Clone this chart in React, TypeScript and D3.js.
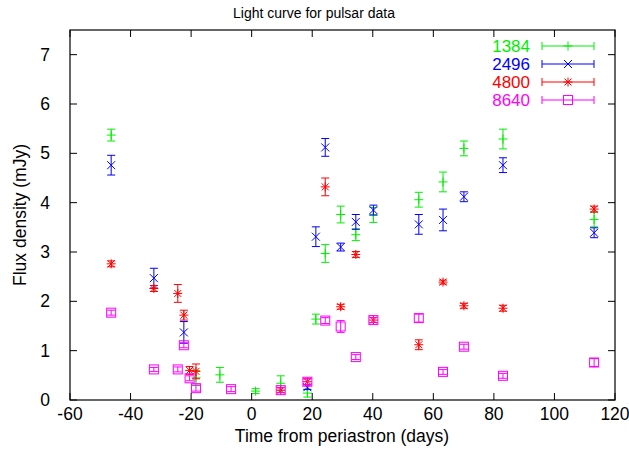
import React from "react";
import * as d3 from "d3";

const title = "Light curve for pulsar data";
const xLabel = "Time from periastron (days)";
const yLabel = "Flux density (mJy)";
const xTicks = [-60, -40, -20, 0, 20, 40, 60, 80, 100, 120];
const yTicks = [0, 1, 2, 3, 4, 5, 6, 7];

const seriesNames = ["1384", "2496", "4800", "8640"];
const seriesColors = ["#00ee00", "#0000ff", "#ff0000", "#ff00ff"];
const seriesShapes = ["plus", "cross", "star", "square"];

// [time, flux, error]
const s1384: number[][] = [
  [-46.4, 5.37, 0.12], [-18.4, 0.45, 0.15], [-10.5, 0.51, 0.15], [1.3, 0.18, 0.05],
  [9.6, 0.34, 0.15], [18.4, 0.14, 0.08], [21.2, 1.64, 0.1], [24.3, 2.97, 0.18],
  [29.4, 3.76, 0.17], [34.4, 3.35, 0.12], [40.2, 3.75, 0.15], [55.2, 4.06, 0.15],
  [63.2, 4.42, 0.2], [70.1, 5.1, 0.15], [83.0, 5.29, 0.2], [113.1, 3.66, 0.15],
];
const s2496: number[][] = [
  [-46.4, 4.76, 0.2], [-32.3, 2.47, 0.2], [-22.4, 1.37, 0.22], [18.4, 0.26, 0.05],
  [21.2, 3.31, 0.2], [24.3, 5.12, 0.18], [29.4, 3.1, 0.08], [34.4, 3.61, 0.15],
  [40.2, 3.85, 0.1], [55.2, 3.56, 0.2], [63.2, 3.65, 0.22], [70.1, 4.12, 0.1],
  [83.0, 4.76, 0.15], [113.1, 3.39, 0.1],
];
const s4800: number[][] = [
  [-46.4, 2.76, 0.06], [-32.3, 2.26, 0.06], [-24.4, 2.16, 0.18], [-22.4, 1.72, 0.1],
  [-20.5, 0.6, 0.08], [-18.4, 0.58, 0.15], [9.6, 0.2, 0.05], [18.4, 0.37, 0.06],
  [24.3, 4.32, 0.18], [29.4, 1.89, 0.05], [34.4, 2.95, 0.06], [40.2, 1.62, 0.05],
  [55.2, 1.12, 0.1], [63.2, 2.39, 0.04], [70.1, 1.91, 0.05], [83.0, 1.86, 0.06],
  [113.1, 3.87, 0.06],
];
const s8640: number[][] = [
  [-46.4, 1.77, 0.05], [-32.3, 0.62, 0.04], [-24.4, 0.62, 0.05], [-22.4, 1.11, 0.05],
  [-20.5, 0.44, 0.05], [-18.4, 0.24, 0.06], [-6.8, 0.22, 0.05], [9.6, 0.2, 0.05],
  [18.4, 0.37, 0.06], [24.3, 1.61, 0.06], [29.4, 1.49, 0.12], [34.4, 0.87, 0.05],
  [40.2, 1.62, 0.05], [55.2, 1.66, 0.08], [63.2, 0.57, 0.05], [70.1, 1.08, 0.05],
  [83.0, 0.49, 0.05], [113.1, 0.76, 0.08],
];
const allSeries = [s1384, s2496, s4800, s8640];

const W = 629, H = 451;
const M = { left: 70, right: 615, top: 30, bottom: 400 };
const FONT = "'Liberation Sans', Arial, Helvetica, sans-serif";

function Marker({ shape, cx, cy, color }: { shape: string; cx: number; cy: number; color: string }) {
  const s = 4.5;
  const parts: React.ReactNode[] = [];
  if (shape === "plus" || shape === "star") {
    parts.push(<line key="h" x1={cx - s} x2={cx + s} y1={cy} y2={cy} />);
    parts.push(<line key="v" x1={cx} x2={cx} y1={cy - s} y2={cy + s} />);
  }
  if (shape === "cross" || shape === "star") {
    const d = shape === "star" ? 3.5 : 4;
    parts.push(<line key="a" x1={cx - d} x2={cx + d} y1={cy - d} y2={cy + d} />);
    parts.push(<line key="b" x1={cx - d} x2={cx + d} y1={cy + d} y2={cy - d} />);
  }
  if (shape === "square") {
    parts.push(<rect key="r" x={cx - 4.5} y={cy - 4.5} width={9} height={9} fill="none" />);
  }
  return <g stroke={color} strokeWidth={1} fill="none">{parts}</g>;
}

export default function App() {
  const x = d3.scaleLinear().domain([-60, 120]).range([M.left, M.right]);
  const y = d3.scaleLinear().domain([0, 7.5]).range([M.bottom, M.top]);
  const tickLen = 7;
  const cap = 4;

  return (
    <svg width={W} height={H} style={{ position: "absolute", left: 0, top: 0, background: "#fff" }}
      fontFamily={FONT}>
      <rect x={0} y={0} width={W} height={H} fill="#fff" />
      {/* data */}
      {allSeries.map((ser, si) => (
        <g key={si}>
          {ser.map((d, i) => {
            const cx = x(d[0]);
            const cy = y(d[1]);
            const y1 = y(d[1] - d[2]);
            const y2 = y(d[1] + d[2]);
            const col = seriesColors[si];
            return (
              <g key={i}>
                <g stroke={col} strokeWidth={1}>
                  <line x1={cx} x2={cx} y1={y1} y2={y2} />
                  <line x1={cx - cap} x2={cx + cap} y1={y1} y2={y1} />
                  <line x1={cx - cap} x2={cx + cap} y1={y2} y2={y2} />
                </g>
                <Marker shape={seriesShapes[si]} cx={cx} cy={cy} color={col} />
              </g>
            );
          })}
        </g>
      ))}
      {/* border */}
      <rect x={M.left} y={M.top} width={M.right - M.left} height={M.bottom - M.top}
        fill="none" stroke="#000" strokeWidth={1.2} />
      {xTicks.map((t) => (
        <g key={"x" + t}>
          <line x1={x(t)} x2={x(t)} y1={M.bottom} y2={M.bottom - tickLen} stroke="#000" />
          <line x1={x(t)} x2={x(t)} y1={M.top} y2={M.top + tickLen} stroke="#000" />
          <text x={x(t)} y={M.bottom + 20} textAnchor="middle" fontSize={17.5} fill="#000">{t}</text>
        </g>
      ))}
      {yTicks.map((t) => (
        <g key={"y" + t}>
          <line x1={M.left} x2={M.left + tickLen} y1={y(t)} y2={y(t)} stroke="#000" />
          <line x1={M.right} x2={M.right - tickLen} y1={y(t)} y2={y(t)} stroke="#000" />
          <text x={M.left - 20} y={y(t) + 6} textAnchor="end" fontSize={17.5} fill="#000">{t}</text>
        </g>
      ))}
      <text x={314} y={18} textAnchor="middle" fontSize={14} fill="#000">{title}</text>
      <text x={342} y={442} textAnchor="middle" fontSize={17.5} fill="#000">{xLabel}</text>
      <text transform={`translate(26,215) rotate(-90)`} textAnchor="middle" fontSize={17.5} fill="#000">{yLabel}</text>
      {/* legend */}
      {seriesNames.map((n, i) => {
        const ly = 46 + i * 18;
        const col = seriesColors[i];
        return (
          <g key={n}>
            <text x={530} y={ly + 6} textAnchor="end" fontSize={17} fill={col}>{n}</text>
            <g stroke={col} strokeWidth={1}>
              <line x1={542} x2={594} y1={ly} y2={ly} />
              <line x1={542} x2={542} y1={ly - cap} y2={ly + cap} />
              <line x1={594} x2={594} y1={ly - cap} y2={ly + cap} />
            </g>
            <Marker shape={seriesShapes[i]} cx={568} cy={ly} color={col} />
          </g>
        );
      })}
    </svg>
  );
}
